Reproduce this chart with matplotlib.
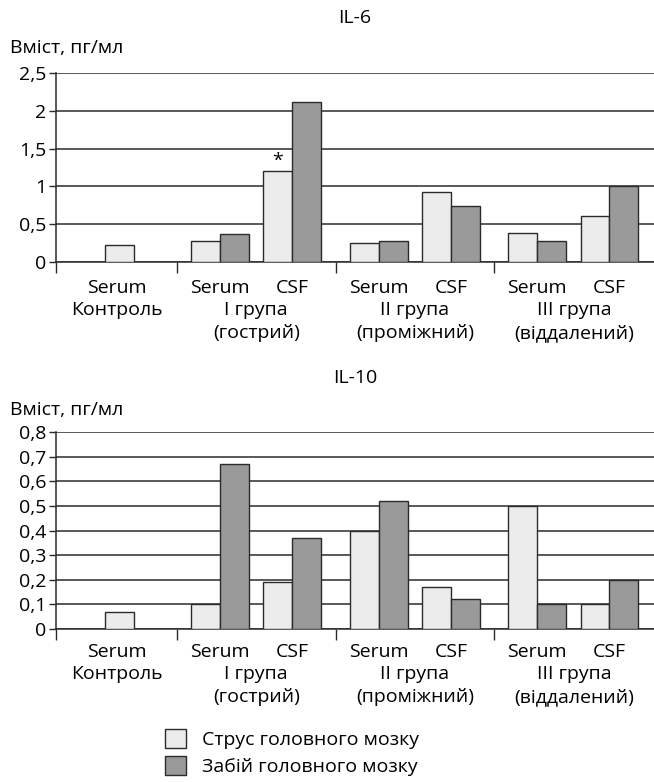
import matplotlib.pyplot as plt
import matplotlib.transforms as mtransforms
import numpy as np

plt.rcParams['font.family'] = ['Open Sans', 'DejaVu Sans']
plt.rcParams['font.size'] = 14

# categories along the x axis
slots = ['Serum', 'Serum', 'CSF', 'Serum', 'CSF', 'Serum', 'CSF']
groups = ['Контроль', 'I група', 'II група', 'III група']
periods = ['', '(гострий)', '(проміжний)', '(віддалений)']
series = ['Струс головного мозку', 'Забій головного мозку']

# pg/ml values, concussion (light) and contusion (dark)
il6_light = [0.23, 0.28, 1.2, 0.25, 0.93, 0.38, 0.61]
il6_dark = [np.nan, 0.37, 2.11, 0.28, 0.74, 0.28, 1.0]
il10_light = [0.07, 0.1, 0.19, 0.4, 0.17, 0.5, 0.1]
il10_dark = [np.nan, 0.67, 0.37, 0.52, 0.12, 0.1, 0.2]

xpos = np.array([0, 1.2, 2.2, 3.4, 4.4, 5.6, 6.6])
edges = [-1.08, 0.6, 2.8, 5.0, 7.22]
w = 0.4
fs = 14
light_c = '#ececec'
dark_c = '#9a9a9a'
line_c = '#2b2b2b'

fig = plt.figure(figsize=(6.54, 7.82), dpi=100)
W, H = 654, 782


def panel(top_px, bottom_px, light, dark, ymax, step, title, title_y, ylab_y, row_y):
    ax = fig.add_axes([56 / W, 1 - bottom_px / H, (W - 56) / W, (bottom_px - top_px) / H])
    light = np.array(light)
    dark = np.array(dark)
    ok = ~np.isnan(dark)
    ax.bar(xpos - w, light, w, align='edge', color=light_c, edgecolor=line_c, linewidth=1.0, zorder=3)
    ax.bar(xpos[ok], dark[ok], w, align='edge', color=dark_c, edgecolor=line_c, linewidth=1.0, zorder=3)
    ticks = np.arange(0, ymax + step / 2, step)
    ax.set_ylim(0, ymax)
    ax.set_xlim(edges[0], edges[-1])
    ax.set_yticks(ticks)
    ax.set_yticklabels([('%g' % t).replace('.', ',') for t in ticks], fontsize=fs)
    ax.yaxis.grid(True, color=line_c, linewidth=1.1, zorder=0)
    ax.set_axisbelow(True)
    ax.set_xticks(edges[:-1])
    ax.set_xticklabels([])
    ax.tick_params(axis='x', length=8, width=1.0, color=line_c, direction='out')
    ax.tick_params(axis='y', length=5, width=1.0, color=line_c, direction='out', pad=2)
    for s in ['top', 'right']:
        ax.spines[s].set_visible(False)
    for s in ['left', 'bottom']:
        ax.spines[s].set_color(line_c)
        ax.spines[s].set_linewidth(1.1)

    fig.text(355 / W, 1 - title_y / H, title, ha='center', va='center', fontsize=fs)
    fig.text(10 / W, 1 - ylab_y / H, 'Вміст, пг/мл', ha='left', va='center', fontsize=fs)

    tr = mtransforms.blended_transform_factory(ax.transData, fig.transFigure)
    for i, s in enumerate(slots):
        x = (edges[0] + edges[1]) / 2 if i == 0 else xpos[i]
        ax.text(x, 1 - row_y / H, s, transform=tr, ha='center', va='center', fontsize=fs)
    for g, (name, per) in enumerate(zip(groups, periods)):
        xc = (edges[g] + edges[g + 1]) / 2
        ax.text(xc, 1 - (row_y + 22) / H, name, transform=tr, ha='center', va='center', fontsize=fs)
        if per:
            ax.text(xc, 1 - (row_y + 45) / H, per, transform=tr, ha='center', va='center', fontsize=fs)
    return ax


ax1 = panel(73, 262, il6_light, il6_dark, 2.5, 0.5, 'IL-6', 18, 48, 288)
ax1.text(xpos[2] - w / 2, il6_light[2] + 0.02, '*', ha='center', va='bottom', fontsize=fs)
ax2 = panel(432, 629, il10_light, il10_dark, 0.8, 0.1, 'IL-10', 378, 410, 652)

handles = [plt.Rectangle((0, 0), 1, 1, facecolor=c, edgecolor=line_c, linewidth=1.0)
           for c in (light_c, dark_c)]
fig.legend(handles, series, loc='upper left', bbox_to_anchor=(165 / W, 1 - 729 / H),
           frameon=False, fontsize=fs, handlelength=1.1, handleheight=1.1,
           labelspacing=0.38, handletextpad=0.8, borderpad=0, borderaxespad=0)

fig.savefig('out.png', dpi=100)
